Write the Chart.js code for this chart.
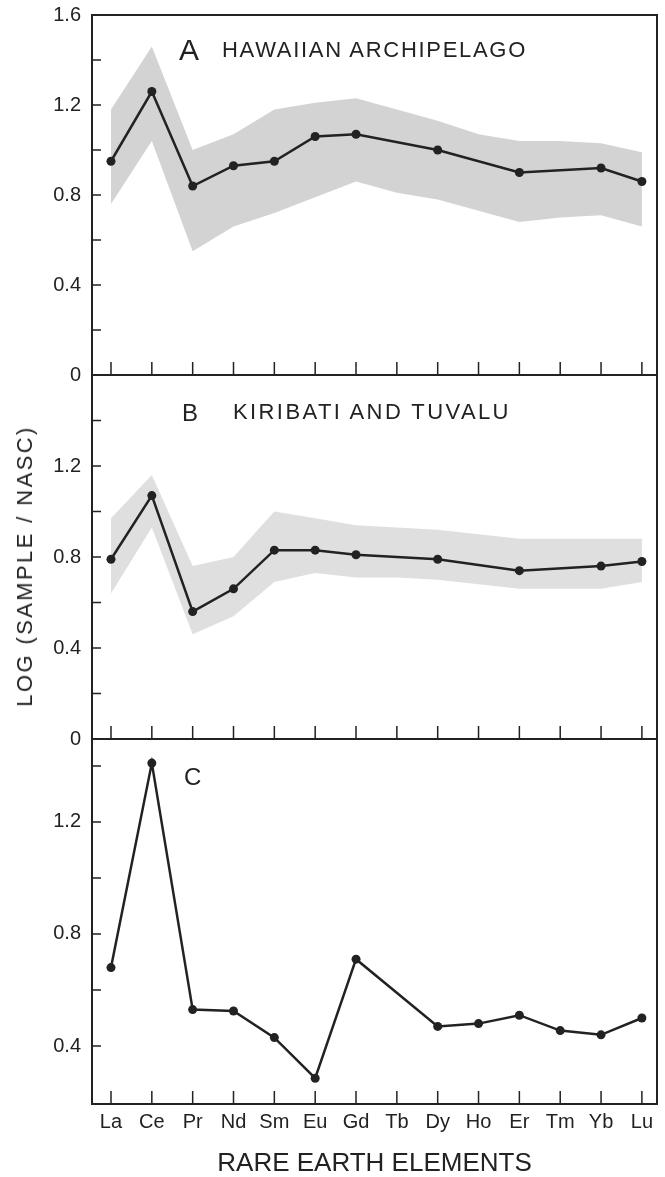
<!DOCTYPE html>
<html>
<head>
<meta charset="utf-8">
<script src="https://cdn.jsdelivr.net/npm/chart.js@4.4.1/dist/chart.umd.min.js"></script>
<style>
  body { margin: 0; background: #fff; }
  #page { position: relative; width: 665px; height: 1177px; overflow: hidden;
          font-family: "Liberation Sans", Arial, sans-serif; color: #222; }
  canvas { position: absolute; left: 0; }
  .lbl { position: absolute; white-space: nowrap; line-height: 1; }
</style>
</head>
<body>
<div id="page">
  <canvas id="chartA" width="665" height="395" style="top:0px"></canvas>
  <canvas id="chartB" width="665" height="395" style="top:360px"></canvas>
  <canvas id="chartC" width="665" height="453" style="top:724px"></canvas>

  <div class="lbl" style="left:179px; top:35px; font-size:30px;">A</div>
  <div class="lbl" style="left:222px; top:39px; font-size:22px; letter-spacing:1.7px;">HAWAIIAN ARCHIPELAGO</div>
  <div class="lbl" style="left:182px; top:401px; font-size:24px;">B</div>
  <div class="lbl" style="left:233px; top:401px; font-size:22px; letter-spacing:2.4px;">KIRIBATI AND TUVALU</div>
  <div class="lbl" style="left:184px; top:765px; font-size:24px;">C</div>
  <div class="lbl" style="left:25px; top:566px; font-size:22px; letter-spacing:2.4px; transform:translate(-50%,-50%) rotate(-90deg);">LOG (SAMPLE / NASC)</div>
</div>

<script>
// categorias (eje x)
const elements = ['La', 'Ce', 'Pr', 'Nd', 'Sm', 'Eu', 'Gd', 'Tb', 'Dy', 'Ho', 'Er', 'Tm', 'Yb', 'Lu'];

// A - Hawaiian Archipelago
const hawaiiMean  = [0.95, 1.26, 0.84, 0.93, 0.95, 1.06, 1.07, null, 1.00, null, 0.90, null, 0.92, 0.86];
const hawaiiUpper = [1.18, 1.46, 1.00, 1.07, 1.18, 1.21, 1.23, 1.18, 1.13, 1.07, 1.04, 1.04, 1.03, 0.99];
const hawaiiLower = [0.76, 1.04, 0.55, 0.66, 0.72, 0.79, 0.86, 0.81, 0.78, 0.73, 0.68, 0.70, 0.71, 0.66];

// B - Kiribati and Tuvalu
const kiribatiMean  = [0.79, 1.07, 0.56, 0.66, 0.83, 0.83, 0.81, null, 0.79, null, 0.74, null, 0.76, 0.78];
const kiribatiUpper = [0.97, 1.16, 0.76, 0.80, 1.00, 0.97, 0.94, 0.93, 0.92, 0.90, 0.88, 0.88, 0.88, 0.88];
const kiribatiLower = [0.64, 0.93, 0.46, 0.54, 0.69, 0.73, 0.71, 0.71, 0.70, 0.68, 0.66, 0.66, 0.66, 0.69];

// C
const sampleC = [0.68, 1.41, 0.53, 0.525, 0.43, 0.285, 0.71, null, 0.47, 0.48, 0.51, 0.455, 0.44, 0.50];

// ticks del eje y
const yLabelsA = [0, 0.4, 0.8, 1.2, 1.6];
const yLabelsB = [0, 0.4, 0.8, 1.2];
const yLabelsC = [0.4, 0.8, 1.2];
const yMarksAB = [0.2, 0.4, 0.6, 0.8, 1.0, 1.2, 1.4];
const yMarksC  = [0.4, 0.6, 0.8, 1.0, 1.2, 1.4];

const INK = '#222';
const FONT = '"Liberation Sans", Arial, sans-serif';

Chart.defaults.font.family = FONT;
Chart.defaults.color = INK;

const toPoints = arr => arr.map((v, i) => ({ x: i, y: v }));

// marco + ticks hacia adentro
const innerTicks = {
  id: 'innerTicks',
  afterDatasetsDraw(chart, args, opts) {
    const { ctx, chartArea: a } = chart;
    const x = chart.scales.x, y = chart.scales.y;
    ctx.save();
    ctx.strokeStyle = INK;
    ctx.lineWidth = 2;
    ctx.strokeRect(a.left, a.top, a.right - a.left, a.bottom - a.top);
    ctx.lineWidth = 1.5;
    ctx.beginPath();
    elements.forEach((_, i) => {
      const px = x.getPixelForValue(i);
      ctx.moveTo(px, a.bottom);
      ctx.lineTo(px, a.bottom - 13);
    });
    opts.marks.forEach(v => {
      const py = y.getPixelForValue(v);
      ctx.moveTo(a.left, py);
      ctx.lineTo(a.left + 9, py);
    });
    ctx.stroke();
    ctx.restore();
  }
};

function meanDataset(values) {
  return {
    data: toPoints(values),
    borderColor: INK,
    borderWidth: 2.5,
    pointRadius: 4.5,
    pointBackgroundColor: INK,
    pointBorderWidth: 0,
    spanGaps: true,
    tension: 0,
    fill: false
  };
}

function bandDatasets(upper, lower, color) {
  return [
    { data: toPoints(upper), borderColor: 'rgba(0,0,0,0)', borderWidth: 0, pointRadius: 0, fill: '+1', backgroundColor: color, tension: 0 },
    { data: toPoints(lower), borderColor: 'rgba(0,0,0,0)', borderWidth: 0, pointRadius: 0, fill: false, tension: 0 }
  ];
}

function makePanel(canvasId, datasets, cfg) {
  const showX = !!cfg.showX;
  return new Chart(document.getElementById(canvasId), {
    type: 'line',
    data: { datasets },
    plugins: [innerTicks],
    options: {
      responsive: false,
      animation: false,
      events: [],
      layout: { padding: cfg.padding },
      plugins: {
        legend: { display: false },
        tooltip: { enabled: false },
        innerTicks: { marks: cfg.marks }
      },
      scales: {
        x: {
          type: 'linear',
          min: -0.465,
          max: 13.37,
          display: showX,
          afterBuildTicks: s => { s.ticks = elements.map((_, i) => ({ value: i })); },
          afterFit: s => { if (showX) s.height = 73; },
          grid: { display: false },
          border: { display: false },
          ticks: {
            autoSkip: false,
            maxRotation: 0,
            padding: -2,
            font: { size: 20 },
            callback: v => elements[v]
          },
          title: {
            display: showX,
            text: 'RARE EARTH ELEMENTS',
            font: { size: 26, lineHeight: 1 },
            padding: { top: 0, bottom: 0 }
          }
        },
        y: {
          min: cfg.min,
          max: cfg.max,
          afterBuildTicks: s => { s.ticks = cfg.labels.map(v => ({ value: v })); },
          afterFit: s => { s.width = 92; },
          grid: { display: false },
          border: { display: false },
          ticks: {
            padding: 3,
            font: { size: 20 },
            callback: v => (v === 0 ? '0' : v.toFixed(1))
          }
        }
      }
    }
  });
}

makePanel('chartA',
  [meanDataset(hawaiiMean), ...bandDatasets(hawaiiUpper, hawaiiLower, 'rgba(120,120,120,0.33)')],
  { min: 0, max: 1.6, labels: yLabelsA, marks: yMarksAB, padding: { top: 15, bottom: 20, left: 0, right: 8 } });

makePanel('chartB',
  [meanDataset(kiribatiMean), ...bandDatasets(kiribatiUpper, kiribatiLower, 'rgba(120,120,120,0.24)')],
  { min: 0, max: 1.6, labels: yLabelsB, marks: yMarksAB, padding: { top: 15, bottom: 16, left: 0, right: 8 } });

makePanel('chartC',
  [meanDataset(sampleC)],
  { min: 0.193, max: 1.496, labels: yLabelsC, marks: yMarksC, showX: true, padding: { top: 15, bottom: 0, left: 0, right: 8 } });
</script>
</body>
</html>
